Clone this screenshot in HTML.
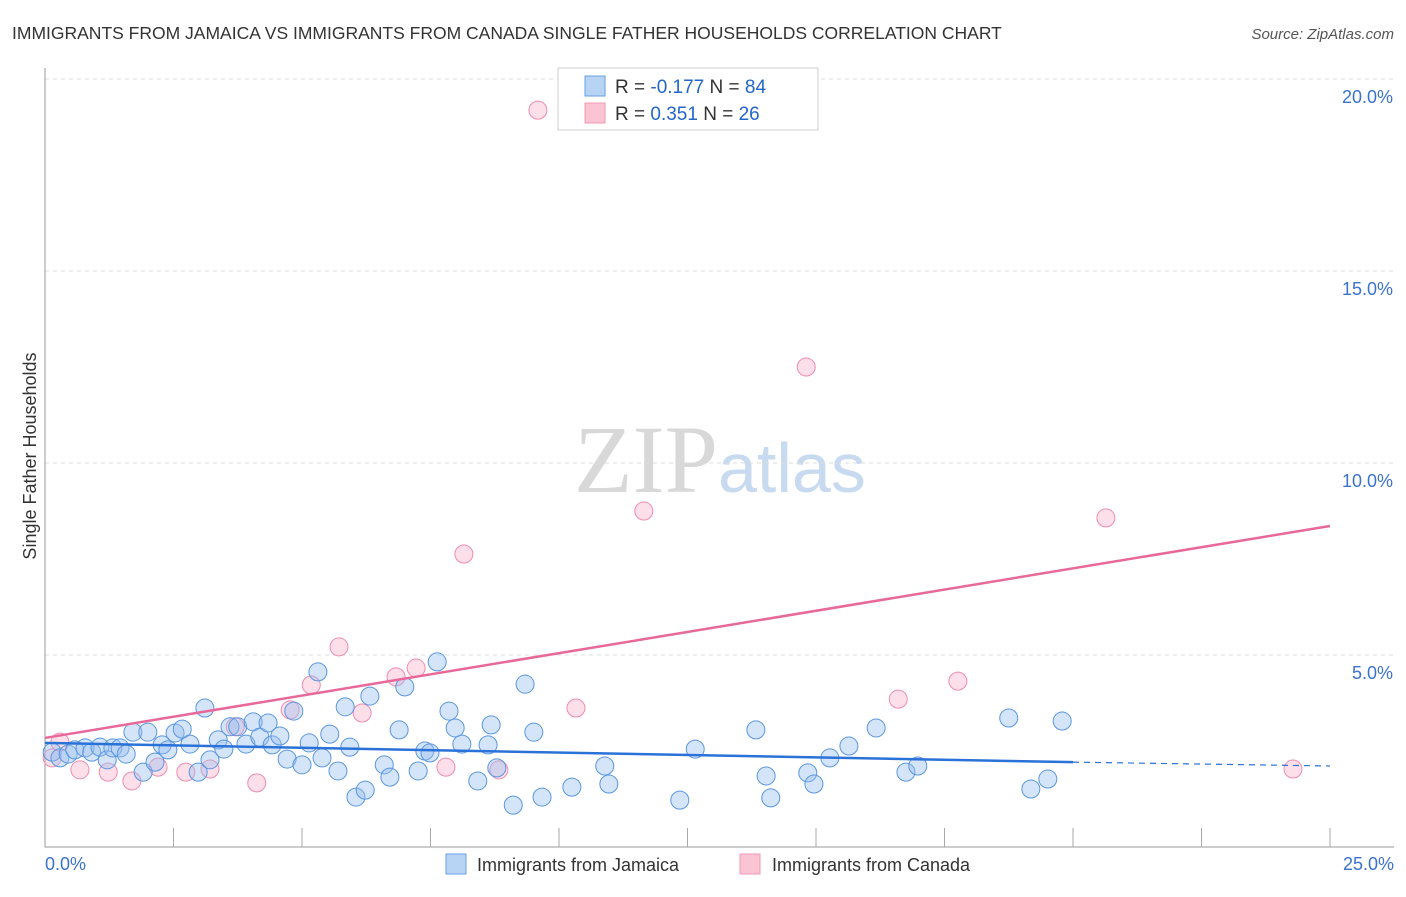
<!DOCTYPE html>
<html><head><meta charset="utf-8"><style>
body{margin:0;background:#fff;font-family:"Liberation Sans",sans-serif;}
</style></head><body>
<svg width="1406" height="892" xmlns="http://www.w3.org/2000/svg" id="chart" font-family="Liberation Sans, sans-serif">
<text x="12" y="39" font-size="17.5" fill="#333">IMMIGRANTS FROM JAMAICA VS IMMIGRANTS FROM CANADA SINGLE FATHER HOUSEHOLDS CORRELATION CHART</text>
<text x="1394" y="39" font-size="15" fill="#555" font-style="italic" text-anchor="end">Source: ZipAtlas.com</text>
<text x="718" y="492" font-size="96" fill="#d8d8d8" font-family="Liberation Serif, serif" text-anchor="end">ZIP</text>
<text x="718" y="492" font-size="70" fill="#c8daf0">atlas</text>
<text x="36" y="456" font-size="18" fill="#333" transform="rotate(-90 36 456)" text-anchor="middle">Single Father Households</text>
<g id="grid"></g><g id="marks"></g>
<g>
<rect x="558" y="68" width="260" height="62" fill="#fff" stroke="#ccc"/>
<rect x="585" y="76" width="20" height="20" fill="#b8d4f4" stroke="#6aa0e0"/>
<rect x="585" y="103" width="20" height="20" fill="#fac4d4" stroke="#f098b4"/>
<text x="615" y="93" font-size="19" fill="#333">R = <tspan fill="#2266cc">-0.177</tspan>   N = <tspan fill="#2266cc">84</tspan></text>
<text x="615" y="120" font-size="19" fill="#333">R =  <tspan fill="#2266cc">0.351</tspan>   N = <tspan fill="#2266cc">26</tspan></text>
</g>
<g>
<rect x="446" y="854" width="20" height="20" fill="#b8d4f4" stroke="#6aa0e0"/>
<text x="477" y="871" font-size="18" fill="#333">Immigrants from Jamaica</text>
<rect x="740" y="854" width="20" height="20" fill="#fac4d4" stroke="#f098b4"/>
<text x="772" y="871" font-size="18" fill="#333">Immigrants from Canada</text>
</g>
</svg>
<script>
const yTicks=[5,10,15,20];
const yTickLabels=["5.0%","10.0%","15.0%","20.0%"];
const xTickLabels=["0.0%","25.0%"];
const jamX=[0.14,0.29,0.45,0.58,0.78,0.91,1.07,1.21,1.32,1.46,1.58,1.71,1.91,2.00,2.14,2.28,2.39,2.53,2.67,2.82,2.98,3.11,3.21,3.37,3.48,3.60,3.75,3.91,4.05,4.18,4.34,4.42,4.57,4.71,4.84,5.00,5.14,5.31,5.39,5.54,5.70,5.84,5.93,6.05,6.23,6.32,6.60,6.71,6.89,7.00,7.26,7.39,7.49,7.63,7.86,7.98,8.11,8.42,8.62,8.68,8.79,9.11,9.34,9.51,9.67,10.25,10.89,10.97,12.35,12.65,13.83,14.03,14.12,14.84,14.96,15.27,15.64,16.17,16.75,16.98,18.75,19.18,19.51,19.79];
const jamY=[2.47,2.32,2.42,2.53,2.58,2.47,2.60,2.27,2.58,2.58,2.42,2.99,1.95,2.99,2.21,2.66,2.53,2.97,3.07,2.68,1.95,3.62,2.27,2.79,2.55,3.13,3.13,2.68,3.26,2.86,3.23,2.66,2.89,2.29,3.54,2.14,2.71,4.56,2.32,2.94,1.98,3.65,2.60,1.30,1.48,3.93,2.14,1.82,3.05,4.17,1.98,2.50,2.45,4.82,3.54,3.10,2.68,1.72,2.66,3.18,2.06,1.09,4.24,2.99,1.30,1.56,2.11,1.64,1.22,2.55,3.05,1.85,1.28,1.93,1.64,2.32,2.63,3.10,1.95,2.11,3.36,1.51,1.77,3.28];
const canX=[9.59,14.81,11.65,8.15,20.64,5.72,17.76,7.22,6.83,5.18,16.60,10.33,6.17,4.77,3.70,7.80,8.83,0.29,0.14,0.68,1.23,1.69,2.20,2.74,3.21,4.12,24.28];
const canY=[19.19,12.50,8.75,7.63,8.57,5.21,4.32,4.66,4.43,4.22,3.85,3.62,3.49,3.57,3.13,2.08,2.01,2.73,2.32,2.01,1.95,1.72,2.08,1.95,2.03,1.67,2.03];
const jamTrendX=[0,20,25], jamTrendY=[2.71,2.21,2.11];
const canTrendX=[0,25], canTrendY=[2.84,8.36];
const NS="http://www.w3.org/2000/svg";
const sx=v=>45+v*51.4, sy=v=>847-v*38.4;
function mk(tag,attrs,parent){const e=document.createElementNS(NS,tag);for(const k in attrs)e.setAttribute(k,attrs[k]);parent.appendChild(e);return e;}
const grid=document.getElementById('grid'), marks=document.getElementById('marks');
yTicks.forEach((t,i)=>{
 const l=mk('line',{x1:45,x2:1394,y1:sy(t),y2:sy(t),stroke:'#ddd','stroke-dasharray':'4,4'},grid);
 
 
 const tx=mk('text',{x:1393,y:sy(t)+24,'font-size':18,fill:'#3a72d0','text-anchor':'end'},grid);
 tx.textContent=yTickLabels[i];
 
 
});
const ax=mk('path',{d:'M45 68V847H1394',stroke:'#999',fill:'none'},grid);


for(let i=1;i<=10;i++){const t=mk('line',{x1:sx(i*2.5),x2:sx(i*2.5),y1:828,y2:847,stroke:'#aaa'},grid);
 
 }
[[45,'start',0],[1394,'end',1]].forEach(([x,a,i])=>{const t=mk('text',{x:x,y:870,'font-size':18,fill:'#3a72d0','text-anchor':a},grid);t.textContent=xTickLabels[i];
 
 });
canX.forEach((x,i)=>{const c=mk('circle',{cx:sx(x),cy:sy(canY[i]),r:9,fill:'rgba(248,176,200,0.4)',stroke:'#f08cb0','stroke-width':1},marks);
 
 });
jamX.forEach((x,i)=>{const c=mk('circle',{cx:sx(x),cy:sy(jamY[i]),r:9,fill:'rgba(150,190,240,0.4)',stroke:'#5a96e0','stroke-width':1},marks);
 
 });
const l1=mk('line',{x1:sx(jamTrendX[0]),y1:sy(jamTrendY[0]),x2:sx(jamTrendX[1]),y2:sy(jamTrendY[1]),stroke:'#2a72d8','stroke-width':2.5},marks);


const l2=mk('line',{x1:sx(jamTrendX[1]),y1:sy(jamTrendY[1]),x2:sx(jamTrendX[2]),y2:sy(jamTrendY[2]),stroke:'#2a72d8','stroke-width':1.2,'stroke-dasharray':'6,5'},marks);


const l3=mk('line',{x1:sx(canTrendX[0]),y1:sy(canTrendY[0]),x2:sx(canTrendX[1]),y2:sy(canTrendY[1]),stroke:'#e8689a','stroke-width':2.5},marks);


</script>
</body></html>
